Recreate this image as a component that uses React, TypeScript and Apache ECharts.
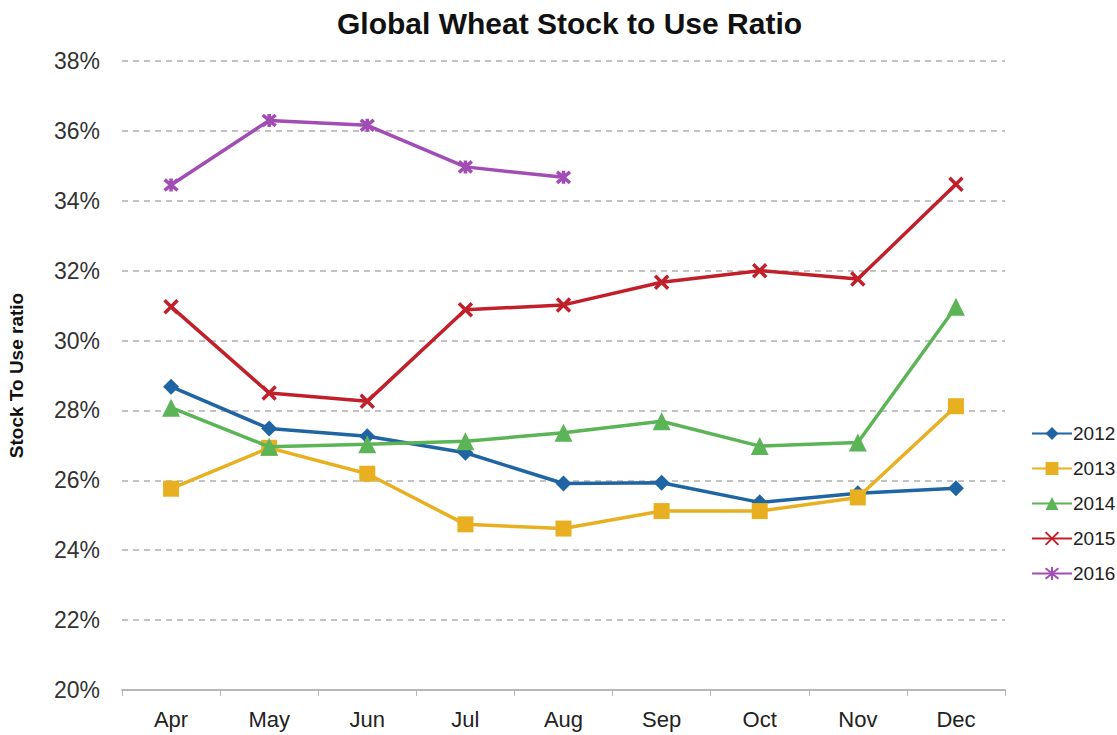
import React, { useEffect, useRef } from "react";
import * as echarts from "echarts";

const months = ["Apr", "May", "Jun", "Jul", "Aug", "Sep", "Oct", "Nov", "Dec"];
const years = ["2012", "2013", "2014", "2015", "2016"];

const s2012 = [28.68, 27.48, 27.26, 26.79, 25.91, 25.93, 25.37, 25.63, 25.77];
const s2013 = [25.76, 26.93, 26.19, 24.74, 24.62, 25.12, 25.12, 25.51, 28.12];
const s2014 = [28.08, 26.96, 27.03, 27.12, 27.36, 27.69, 26.98, 27.08, 30.97];
const s2015 = [30.97, 28.5, 28.26, 30.88, 31.02, 31.67, 32.0, 31.76, 34.47];
const s2016 = [34.45, 36.3, 36.16, 34.97, 34.67, null, null, null, null];

const yTicks = [20, 22, 24, 26, 28, 30, 32, 34, 36, 38];

const colors = ["#1f64a3", "#e8b021", "#5bb455", "#c1202b", "#a24cb5"];

// Stroked marker outlines: a cross, and a cross with a vertical bar (asterisk)
const crossPath = "path://M0,0L10,10M10,0L0,10";
const starPath = "path://M0,0L10,10M10,0L0,10M5,-1L5,11";

export default function App() {
  const ref = useRef<HTMLDivElement>(null);

  useEffect(() => {
    if (!ref.current) return;
    const chart = echarts.init(ref.current, null, { renderer: "svg" });
    const font = "'Liberation Sans', Arial, sans-serif";
    const data = [s2012, s2013, s2014, s2015, s2016];
    const symbols = ["diamond", "rect", "triangle", crossPath, starPath];
    const sizes = [16, 16, 18, 13, 13];

    const series = years.map((name, i) => {
      const stroked = i >= 3;
      return {
        name,
        type: "line",
        data: data[i],
        symbol: symbols[i],
        symbolSize: sizes[i],
        showAllSymbol: true,
        connectNulls: false,
        lineStyle: { color: colors[i], width: 3.5 },
        itemStyle: stroked
          ? { color: colors[i], borderColor: colors[i], borderWidth: 3.5 }
          : { color: colors[i], borderColor: colors[i], borderWidth: 0 },
        z: 2 + i,
      };
    });

    chart.setOption({
      animation: false,
      backgroundColor: "#ffffff",
      textStyle: { fontFamily: font },
      title: {
        text: "Global Wheat Stock to Use Ratio",
        left: 332,
        top: 3,
        textStyle: { fontSize: 30, fontWeight: "bold", color: "#111", fontFamily: font },
      },
      legend: {
        orient: "vertical",
        left: 1026,
        top: 419,
        itemWidth: 40,
        itemHeight: 16,
        itemGap: 16,
        textStyle: { fontSize: 19, color: "#222", fontFamily: font, padding: [0, 0, 0, -4] },
        data: years,
      },
      grid: {
        left: 122,
        right: 112,
        top: 61,
        bottom: 45,
        containLabel: false,
        outerBoundsMode: "none",
      },
      xAxis: {
        type: "category",
        data: months,
        boundaryGap: true,
        axisLine: { show: true, lineStyle: { color: "#b8b8b8", width: 2 } },
        axisTick: { show: true, length: 6, lineStyle: { color: "#b8b8b8", width: 1 } },
        axisLabel: { fontSize: 22, color: "#222", margin: 18, fontFamily: font },
      },
      yAxis: {
        type: "value",
        min: 20,
        max: 38,
        interval: 2,
        name: "Stock To Use ratio",
        nameLocation: "middle",
        nameGap: 96,
        nameRotate: 90,
        nameTextStyle: { fontSize: 19, fontWeight: "bold", color: "#111", fontFamily: font },
        axisLine: { show: false },
        axisTick: { show: false },
        axisLabel: {
          fontSize: 23,
          color: "#333",
          margin: 22,
          fontFamily: font,
          formatter: (v: number) => (yTicks.includes(v) ? `${v}%` : ""),
        },
        splitLine: {
          show: true,
          lineStyle: { color: "#b0b0b0", type: [6, 5], width: 1.5 },
        },
      },
      series,
    });

    return () => chart.dispose();
  }, []);

  return (
    <div
      ref={ref}
      style={{ position: "fixed", left: 0, top: 0, width: 1117, height: 735 }}
    />
  );
}
